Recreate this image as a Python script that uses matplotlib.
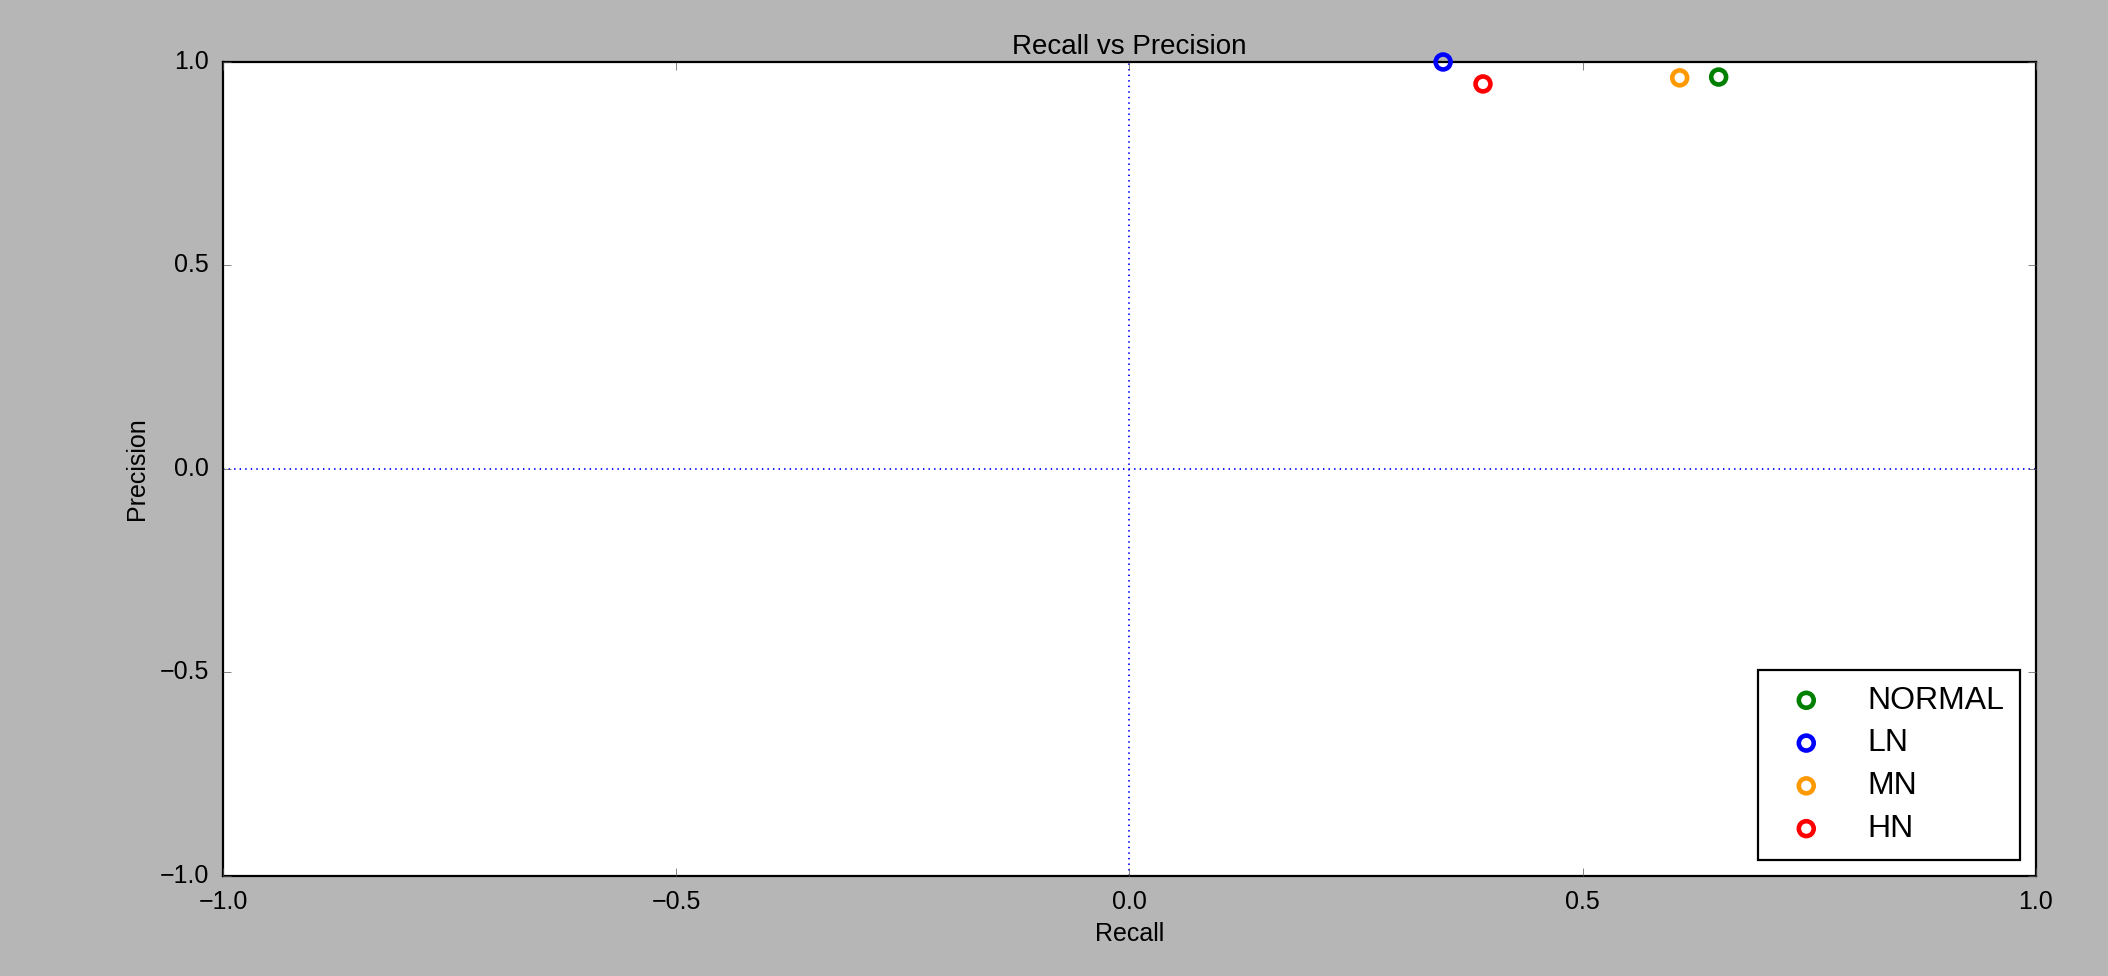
import matplotlib
matplotlib.use("Agg")
import matplotlib.pyplot as plt

plt.style.use("classic")
plt.rcParams["font.family"] = ["Liberation Sans", "DejaVu Sans"]

# recall / precision for each noise level
labels = ["NORMAL", "LN", "MN", "HN"]
recall = [0.650, 0.346, 0.607, 0.390]
precision = [0.963, 1.0, 0.961, 0.946]
colors = ["green", "blue", "#ff9900", "red"]

fig = plt.figure(figsize=(21.08, 9.76), dpi=100, facecolor="#b6b6b6")
ax = fig.add_axes([0.1058, 0.1025, 0.86, 0.834])

for lab, r, p, c in zip(labels, recall, precision, colors):
    ax.scatter(r, p, s=115, facecolors="none", edgecolors=c, linewidths=3.3,
               label=lab, clip_on=False, zorder=3)

ax.axhline(0, color="b", linestyle=":", linewidth=1.3)
ax.axvline(0, color="b", linestyle=":", linewidth=1.3)

ax.set_xlim(-1, 1)
ax.set_ylim(-1, 1)
ax.set_xticks([-1.0, -0.5, 0.0, 0.5, 1.0])
ax.set_yticks([-1.0, -0.5, 0.0, 0.5, 1.0])
ax.tick_params(labelsize=18, pad=10, length=6, color="#555555")
for sp in ax.spines.values():
    sp.set_linewidth(1.6)

ax.set_title("Recall vs Precision", fontsize=20, pad=6)
ax.set_xlabel("Recall", fontsize=18, labelpad=6)
ax.set_ylabel("Precision", fontsize=18, labelpad=8)

leg = ax.legend(loc="lower right", scatterpoints=1, fontsize=23,
                borderaxespad=0.5, handlelength=2.0, handletextpad=0.9,
                labelspacing=0.4, borderpad=0.5)
leg.get_frame().set_linewidth(1.6)

fig.savefig("out.png", dpi=100, facecolor=fig.get_facecolor())
